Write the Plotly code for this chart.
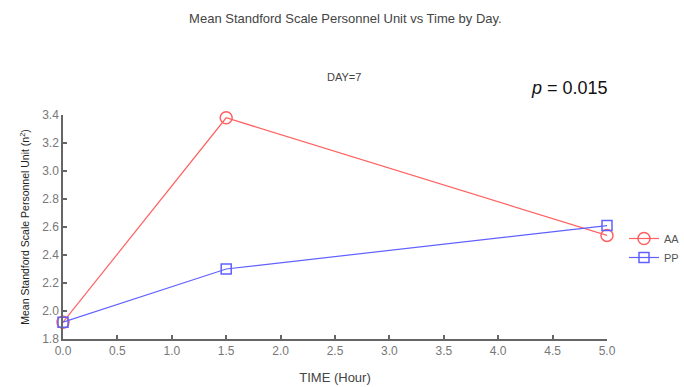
import plotly.graph_objects as go

time_hours = [0.0, 1.5, 5.0]
aa_values = [1.92, 3.38, 2.54]
pp_values = [1.92, 2.30, 2.61]
x_ticks = [0.0, 0.5, 1.0, 1.5, 2.0, 2.5, 3.0, 3.5, 4.0, 4.5, 5.0]
y_ticks = [1.8, 2.0, 2.2, 2.4, 2.6, 2.8, 3.0, 3.2, 3.4]

FONT = "Liberation Sans, Arial, sans-serif"

fig = go.Figure()
fig.add_trace(go.Scatter(
    x=time_hours, y=aa_values, name="AA", mode="lines+markers",
    line=dict(color="#ff6060", width=1.2),
    marker=dict(symbol="circle-open", size=12, color="#ff6060", line=dict(width=1.5)),
    cliponaxis=False,
))
fig.add_trace(go.Scatter(
    x=time_hours, y=pp_values, name="PP", mode="lines+markers",
    line=dict(color="#6060ff", width=1.2),
    marker=dict(symbol="square-open", size=10, color="#6060ff", line=dict(width=1.5)),
    cliponaxis=False,
))

axis_common = dict(
    showgrid=False, zeroline=False, showline=True, linecolor="#666", linewidth=1.5,
    ticks="inside", ticklen=4, tickcolor="#666", tickwidth=1.5,
    tickfont=dict(family=FONT, size=12, color="#777"),
)

fig.update_layout(
    width=684, height=387,
    margin=dict(l=63, r=77, t=115, b=48, autoexpand=False),
    paper_bgcolor="white", plot_bgcolor="white",
    font=dict(family=FONT),
    title=dict(text="Mean Standford Scale Personnel Unit vs Time by Day.",
               x=0.505, xanchor="center", y=0.953, yanchor="middle",
               font=dict(family=FONT, size=13, color="#444")),
    xaxis=dict(range=[0, 5], tickvals=x_ticks, ticktext=[f"{v:.1f}" for v in x_ticks],
               title=dict(text="TIME (Hour)", font=dict(family=FONT, size=13, color="#444"), standoff=16),
               **axis_common),
    yaxis=dict(range=[1.8, 3.4], tickvals=y_ticks, ticktext=[f"{v:.1f}" for v in y_ticks],
               title=dict(text="Mean Standford Scale Personnel Unit (n<sup>2</sup>)",
                          font=dict(family=FONT, size=10.5, color="#222"), standoff=10),
               **axis_common),
    legend=dict(xref="container", yref="container", x=624 / 684, xanchor="left",
                y=1 - 248 / 387, yanchor="middle",
                font=dict(family=FONT, size=11, color="#555"),
                bgcolor="rgba(0,0,0,0)", tracegroupgap=2, itemwidth=30),
    showlegend=True,
)

fig.add_annotation(text="DAY=7", xref="paper", yref="paper", x=(344 - 63) / 544, y=(339 - 77) / 224,
                   showarrow=False, xanchor="center", yanchor="middle",
                   font=dict(family=FONT, size=11, color="#444"))
fig.add_annotation(text="<i>p</i> = 0.015", xref="paper", yref="paper",
                   x=(569 - 63) / 544, y=(339 - 88) / 224,
                   showarrow=False, xanchor="center", yanchor="middle",
                   font=dict(family=FONT, size=18, color="#111"))

fig.write_html("out.html")
